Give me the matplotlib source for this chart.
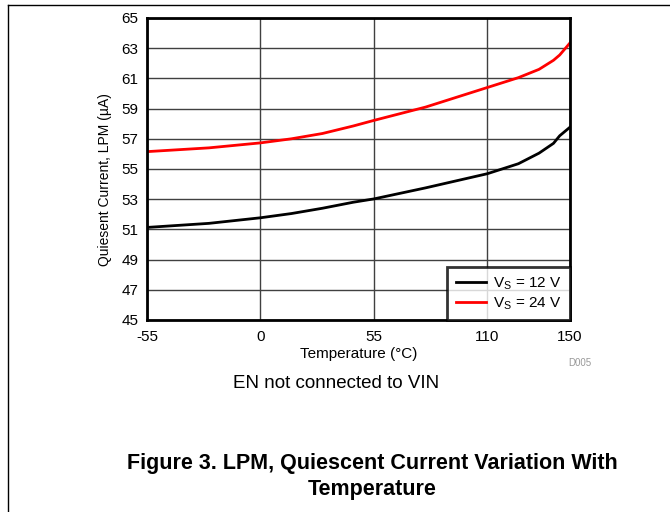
import matplotlib
matplotlib.use('Agg')
import matplotlib.pyplot as plt
from matplotlib.lines import Line2D

plt.rcParams['font.family'] = ['Liberation Sans', 'DejaVu Sans']
plt.rcParams['axes.unicode_minus'] = False

# data
temp = [-55, -25, 0, 15, 30, 45, 55, 80, 110, 125, 135, 142, 145, 150]
iq_12v = [51.13, 51.4, 51.77, 52.05, 52.4, 52.8, 53.02, 53.75, 54.69, 55.35, 56.05, 56.7, 57.2, 57.77]
iq_24v = [56.15, 56.4, 56.73, 57.0, 57.35, 57.85, 58.22, 59.1, 60.4, 61.05, 61.6, 62.2, 62.55, 63.35]

xticks = [-55, 0, 55, 110, 150]
yticks = [45, 47, 49, 51, 53, 55, 57, 59, 61, 63, 65]

fig = plt.figure(figsize=(6.7, 5.12), dpi=100)
ax = fig.add_axes([147/670, 1 - 320/512, (570 - 147)/670, (320 - 18)/512])

ax.plot(temp, iq_12v, color='black', lw=2, label='V$_\\mathregular{S}$ = 12 V')
ax.plot(temp, iq_24v, color='#ff0000', lw=2, label='V$_\\mathregular{S}$ = 24 V')

ax.set_xlim(-55, 150)
ax.set_ylim(45, 65)
ax.set_xticks(xticks)
ax.set_yticks(yticks)
ax.tick_params(axis='x', length=0, labelsize=11, pad=7)
ax.tick_params(axis='y', length=0, labelsize=11, pad=6)
ax.grid(True, color='#404040', lw=1)
ax.set_axisbelow(True)
for s in ax.spines.values():
    s.set_linewidth(2)

ax.set_xlabel('Temperature (\u00b0C)', fontsize=11)
ax.xaxis.set_label_coords(0.501, -0.088)
ax.set_ylabel('Quiesent Current, LPM (\u00b5A)', fontsize=10)
ax.yaxis.set_label_coords(-0.083, 0.465)

leg = ax.legend(loc='lower right', fontsize=11, frameon=True, fancybox=False,
                borderaxespad=0, handlelength=2.0, handletextpad=0.45,
                borderpad=0.55, labelspacing=0.2)
leg.get_frame().set_edgecolor('black')
leg.get_frame().set_linewidth(2)

fig.text(580/670, 1 - 363/512, 'D005', color='#999999', fontsize=7, ha='center', va='center')
fig.text(336/670, 1 - 384/512, 'EN not connected to VIN', fontsize=13.5, ha='center', va='center')
fig.text(372/670, 1 - 463/512, 'Figure 3. LPM, Quiescent Current Variation With',
         fontsize=15.5, fontweight='bold', ha='center', va='center')
fig.text(372/670, 1 - 489/512, 'Temperature',
         fontsize=15.5, fontweight='bold', ha='center', va='center')

# page border lines
fig.add_artist(Line2D([8/670, 1], [1 - 5/512, 1 - 5/512], color='black', lw=1))
fig.add_artist(Line2D([8/670, 8/670], [0, 1 - 5/512], color='black', lw=1))

fig.savefig('out.png', dpi=100)
